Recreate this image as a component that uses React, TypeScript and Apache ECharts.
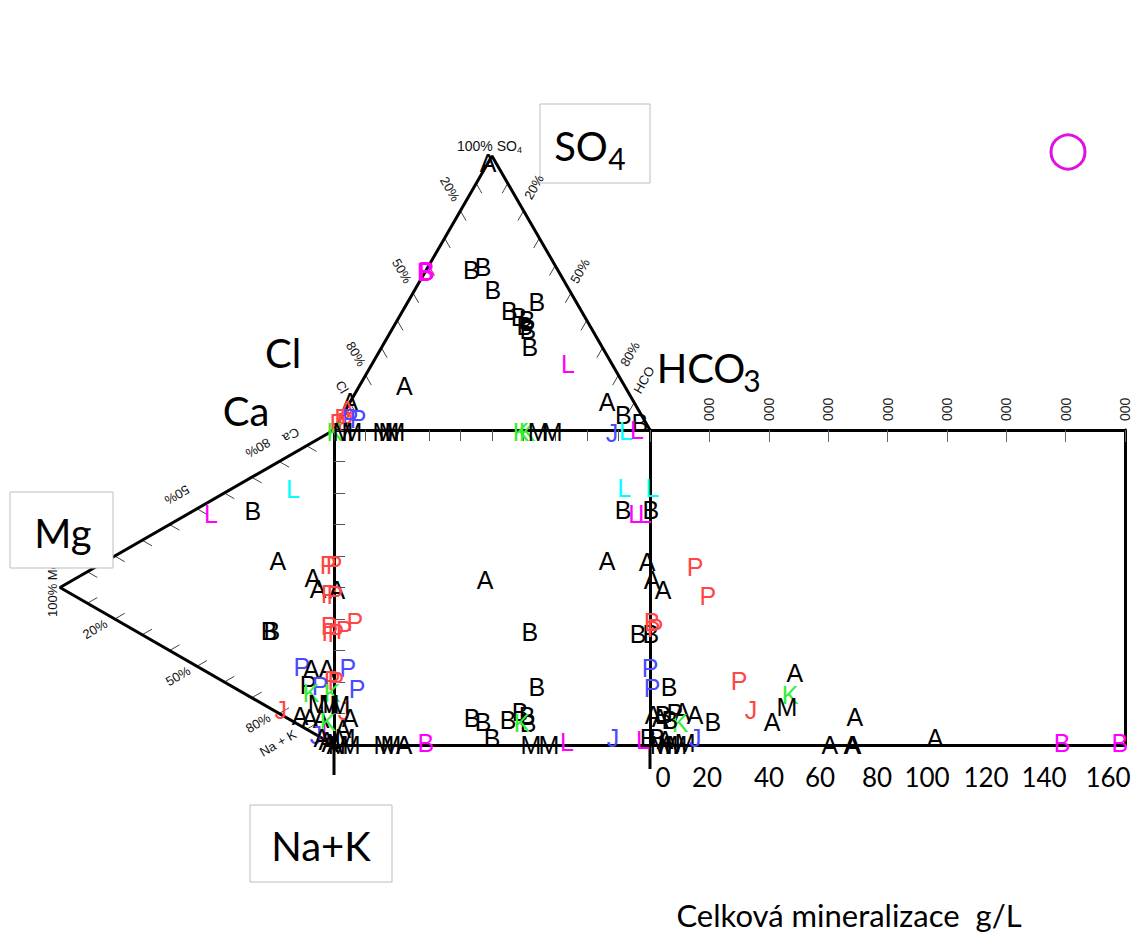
import React, { useEffect, useRef } from "react";
import * as echarts from "echarts";

const COLORS: Record<string, string> = {
  k: "#000000",
  r: "#ff4646",
  b: "#4a4aff",
  g: "#33ee33",
  m: "#ff00ff",
  c: "#00ffff",
};

// Anion triangle: [letter, colour, SO4 %, HCO3 %]  (Cl = remainder)
const anionPoints: [string, string, number, number][] = [
  ["A", "k", 97.6, 0],
  ["B", "m", 57.7, 0], ["B", "m", 58.0, 0.3],
  ["B", "k", 58.5, 14.2], ["B", "k", 59.6, 17.4], ["B", "k", 51.2, 24.7],
  ["B", "k", 43.5, 33.7], ["B", "k", 46.8, 40.8], ["B", "k", 41.3, 37.9],
  ["B", "k", 40.2, 41.0], ["B", "k", 38.0, 41.4], ["B", "k", 36.5, 43.1],
  ["B", "k", 30.3, 46.8],
  ["L", "m", 24.1, 62.0],
  ["A", "k", 16.1, 14.2],
  ["A", "k", 10.2, 81.3],
  ["B", "k", 5.5, 88.8],
  ["B", "k", 2.6, 95.5],
  ["A", "k", 10.2, 0], ["A", "r", 7.3, 0.5], ["P", "r", 4.4, 0.5], ["P", "r", 3.0, 2.0],
  ["P", "b", 4.4, 2.9], ["P", "b", 4.0, 5.6], ["P", "r", 2.5, 0],
];

// Cation triangle: [letter, colour, Mg %, Na+K %]  (Ca = remainder)
const cationPoints: [string, string, number, number][] = [
  ["P", "r", 2.2, 41.6], ["A", "k", 7.7, 43.0], ["A", "k", 5.8, 47.7],
  ["P", "r", 1.8, 51.3], ["P", "r", 1.8, 61.4], ["P", "r", 1.5, 63.5],
  ["L", "c", 15.0, 11.2], ["B", "k", 29.6, 10.8], ["L", "m", 44.9, 4.1],
  ["A", "k", 20.5, 31.3], ["B", "k", 23.7, 52.0], ["B", "k", 22.7, 52.6],
  ["J", "r", 19.4, 79.2],
  ["P", "b", 11.7, 69.5], ["A", "k", 8.4, 71.7], ["A", "k", 2.6, 74.6],
  ["P", "r", 0.7, 79.0], ["P", "k", 9.5, 76.3], ["P", "b", 5.1, 78.7],
  ["K", "g", 8.4, 79.3], ["K", "g", 0.7, 83.1],
  ["A", "k", 12.4, 84.6], ["A", "k", 8.8, 87.1], ["A", "k", 4.7, 89.4],
  ["M", "k", 5.8, 84.1], ["M", "k", 1.8, 86.1], ["L", "m", 2.2, 95.0],
  ["K", "g", 2.2, 91.6], ["J", "b", 6.6, 93.4], ["A", "k", 4.4, 95.6],
  ["A", "k", 1.5, 98.5], ["A", "k", 2.6, 97.4],
];

// Central square: [letter, colour, anion x %, cation y %]
const squarePoints: [string, string, number, number][] = [
  ["K", "g", 0.3, 99.4], ["M", "k", 2.8, 99.4], ["M", "k", 5.7, 99.4],
  ["M", "k", 15.5, 99.4], ["M", "k", 17.4, 99.4], ["M", "k", 19.3, 99.4],
  ["K", "g", 59.2, 99.4], ["K", "g", 61.1, 99.4], ["M", "k", 64.6, 99.4], ["M", "k", 69.0, 99.4],
  ["J", "b", 88.0, 99.0], ["L", "c", 92.4, 99.7], ["L", "m", 95.9, 100],
  ["L", "c", 91.8, 81.6], ["B", "k", 91.5, 74.6], ["L", "m", 95.3, 73.3], ["L", "m", 98.4, 73.3],
  ["A", "k", 86.4, 58.4], ["A", "k", 99.1, 58.1],
  ["A", "k", 47.8, 52.4],
  ["B", "k", 62.0, 35.9],
  ["B", "k", 96.2, 35.2],
  ["B", "k", 64.2, 18.4],
  ["B", "k", 43.7, 8.6], ["B", "k", 47.2, 7.3], ["B", "k", 50.0, 2.2], ["B", "k", 55.1, 7.9],
  ["B", "k", 58.9, 10.5], ["B", "k", 61.1, 9.2], ["B", "k", 61.4, 7.0], ["K", "g", 59.5, 7.0],
  ["M", "k", 62.3, 0], ["M", "k", 68.0, 0], ["L", "m", 73.7, 1.0], ["J", "b", 88.3, 2.2],
  ["L", "m", 97.8, 1.6], ["B", "k", 99.4, 2.2],
  ["M", "k", 15.8, 0], ["M", "k", 18.0, 0], ["A", "k", 22.2, 0], ["B", "m", 29.1, 0.6],
  ["P", "r", 0, 57.1], ["A", "k", 0.9, 49.2], ["P", "r", 0.3, 47.6],
  ["P", "r", 0.6, 35.6], ["P", "r", 3.2, 36.5], ["P", "r", 6.6, 39.0],
  ["P", "b", 4.4, 24.4], ["P", "r", 0.6, 20.3], ["P", "b", 7.3, 17.8],
  ["J", "r", 3.2, 10.8], ["M", "k", 1.9, 12.7], ["A", "k", 5.1, 8.6], ["A", "k", 2.8, 5.1],
  ["M", "k", 1.3, 0], ["M", "k", 3.5, 2.2], ["A", "k", 0.3, 0], ["M", "k", 5.1, 0],
];

// Mineralisation rectangle: [letter, colour, TDS g/L, cation y %]
const tdsPoints: [string, string, number, number][] = [
  ["L", "c", 0.7, 81.6], ["B", "k", 0.3, 74.6],
  ["A", "k", 0.7, 52.4], ["A", "k", 4.4, 49.2],
  ["B", "k", 0.3, 35.2], ["B", "r", 0.7, 39.0], ["P", "r", 1.7, 37.1],
  ["P", "b", 0, 24.4], ["P", "b", 0.7, 18.1], ["B", "k", 6.4, 18.4],
  ["P", "r", 15.2, 56.5], ["P", "r", 19.5, 47.3], ["P", "r", 30.0, 20.3], ["J", "r", 34.0, 11.1],
  ["A", "k", 48.8, 22.9], ["K", "g", 47.2, 15.9], ["M", "k", 46.1, 12.1], ["A", "k", 41.1, 7.3],
  ["A", "k", 69.0, 8.9], ["A", "k", 60.6, 0], ["A", "k", 68.0, 0], ["A", "k", 68.4, 0],
  ["A", "k", 96.0, 2.2],
  ["B", "m", 138.8, 0.6], ["B", "m", 158.3, 0.6],
  ["A", "k", 1.0, 9.5], ["B", "k", 4.4, 9.5], ["P", "k", 8.4, 10.2], ["A", "k", 10.8, 10.5],
  ["A", "k", 15.2, 9.5], ["K", "g", 10.1, 7.0], ["B", "k", 21.2, 7.3], ["A", "k", 3.4, 8.6],
  ["B", "k", 6.7, 7.9],
  ["M", "k", 3.4, 0], ["M", "k", 6.1, 0], ["M", "k", 9.1, 0], ["M", "k", 11.8, 0.6],
  ["J", "b", 15.2, 2.2], ["B", "k", 2.4, 2.2], ["A", "k", 5.1, 1.6],
];

const tdsTickLabels = ["0", "20", "40", "60", "80", "100", "120", "140", "160"];
const tdsTickLabelX = [663, 707, 769, 820, 877, 927, 986, 1044, 1108];
const triTicks = [10, 20, 30, 40, 50, 60, 70, 80, 90];

const S3 = Math.sqrt(3) / 2;
const TRI_H = 100 * S3;
const TICK = 3.6;

const anionXY = (so4: number, hco3: number) => [hco3 + so4 / 2, so4 * S3];
const cationXY = (mg: number, nak: number) => [TRI_H - mg * S3, 100 - nak - mg / 2];

const LETTER_FONT = '"Liberation Sans", Arial, sans-serif';
const BIG_FONT = 'Lato, "Open Sans", sans-serif';

function letterSeries(pts: [string, string, number, number][], coords: number[][], xi: number, yi: number) {
  return {
    type: "custom",
    xAxisIndex: xi,
    yAxisIndex: yi,
    clip: false,
    silent: true,
    z: 5,
    data: coords,
    renderItem: (params: any, api: any) => {
      const p = api.coord([api.value(0), api.value(1)]);
      const [l, c] = pts[params.dataIndex];
      return {
        type: "text",
        x: p[0],
        y: p[1],
        style: {
          text: l,
          fill: COLORS[c],
          fontSize: 25,
          fontFamily: LETTER_FONT,
          align: "center",
          verticalAlign: "middle",
          textAlign: "center",
          textVerticalAlign: "middle",
        },
      };
    },
  };
}

function txt(text: string, x: number, y: number, size: number, opts: any = {}) {
  return {
    type: "text",
    x,
    y,
    rotation: opts.rotation || 0,
    z: opts.z || 20,
    style: {
      text,
      fill: opts.fill || "#111",
      fontSize: size,
      fontFamily: opts.family || LETTER_FONT,
      align: opts.align || "center",
      verticalAlign: opts.va || "middle",
      textAlign: opts.align || "center",
      textVerticalAlign: opts.va || "middle",
    },
  };
}

const BLACK_LINE = { show: true, onZero: false, lineStyle: { color: "#000", width: 3 } };
const NO = { show: false };

function buildOption() {
  const anionTicks: any[] = [];
  const cationTicks: any[] = [];
  triTicks.forEach((s) => {
    const l = [s / 2, s * S3];
    anionTicks.push({ coords: [l, [l[0] + 0.5 * TICK, l[1] - S3 * TICK]] });
    const r = [100 - s / 2, s * S3];
    anionTicks.push({ coords: [r, [r[0] - 0.5 * TICK, r[1] - S3 * TICK]] });
    const t = [TRI_H - S3 * s, 100 - s / 2];
    cationTicks.push({ coords: [t, [t[0] + S3 * TICK, t[1] - 0.5 * TICK]] });
    const b = [TRI_H - S3 * s, s / 2];
    cationTicks.push({ coords: [b, [b[0] + S3 * TICK, b[1] + 0.5 * TICK]] });
  });

  const rot = Math.PI / 3;
  const graphics: any[] = [
    // label boxes
    { type: "rect", z: 18, shape: { x: 540, y: 104, width: 110, height: 79 }, style: { fill: "#fff", stroke: "#bdbdbd", lineWidth: 1 } },
    { type: "rect", z: 18, shape: { x: 10, y: 492, width: 103, height: 76 }, style: { fill: "#fff", stroke: "#bdbdbd", lineWidth: 1 } },
    { type: "rect", z: 18, shape: { x: 250, y: 805, width: 142, height: 77 }, style: { fill: "#fff", stroke: "#bdbdbd", lineWidth: 1 } },
    // axis extensions below the square
    { type: "line", z: 3, shape: { x1: 334, y1: 745, x2: 334, y2: 775 }, style: { stroke: "#000", lineWidth: 3 } },
    { type: "line", z: 3, shape: { x1: 650, y1: 745, x2: 650, y2: 769 }, style: { stroke: "#000", lineWidth: 3 } },
    // legend marker (cut off)
    { type: "circle", z: 20, shape: { cx: 1068, cy: 152, r: 17 }, style: { fill: "none", stroke: "#e010e0", lineWidth: 3 } },
    // big labels
    txt("SO", 581, 146, 40, { family: BIG_FONT, fill: "#000", z: 21 }),
    txt("4", 617, 158, 30, { family: BIG_FONT, fill: "#000", z: 21 }),
    txt("Mg", 63, 533, 40, { family: BIG_FONT, fill: "#000", z: 21 }),
    txt("Na+K", 321, 846, 40, { family: BIG_FONT, fill: "#000", z: 21 }),
    txt("Cl", 283, 353, 40, { family: BIG_FONT, fill: "#000" }),
    txt("Ca", 246, 411, 40, { family: BIG_FONT, fill: "#000" }),
    txt("HCO", 701, 368, 40, { family: BIG_FONT, fill: "#000" }),
    txt("3", 752, 380, 30, { family: BIG_FONT, fill: "#000" }),
    txt("Celková mineralizace  g/L", 849, 915, 31, { family: BIG_FONT, fill: "#000" }),
    // small labels on the triangles
    txt("100% SO", 457, 146, 14, { align: "left" }),
    txt("4", 517, 150, 9, { align: "left" }),
    txt("20%", 450, 189, 13, { rotation: -rot }),
    txt("50%", 402, 271, 13, { rotation: -rot }),
    txt("80%", 356, 354, 13, { rotation: -rot }),
    txt("Cl", 342, 387, 13, { rotation: -rot }),
    txt("20%", 534, 187, 13, { rotation: rot }),
    txt("50%", 580, 271, 13, { rotation: rot }),
    txt("80%", 630, 354, 13, { rotation: rot }),
    txt("HCO", 644, 380, 13, { rotation: rot }),
    txt("Ca", 291, 435, 13, { rotation: Math.PI / 6 + Math.PI }),
    txt("80%", 258, 448, 13, { rotation: Math.PI / 6 + Math.PI }),
    txt("50%", 177, 495, 13, { rotation: Math.PI / 6 + Math.PI }),
    txt("20%", 95, 629, 13, { rotation: Math.PI / 6 }),
    txt("50%", 178, 676, 13, { rotation: Math.PI / 6 }),
    txt("80%", 258, 723, 13, { rotation: Math.PI / 6 }),
    txt("Na + K", 278, 743, 13, { rotation: Math.PI / 6 }),
    txt("100% Mg", 52, 617, 13, { rotation: Math.PI / 2, align: "left", z: 15 }),
  ];
  tdsTickLabels.forEach((t, i) => {
    graphics.push(txt(t, tdsTickLabelX[i], 777, 26, { family: BIG_FONT, fill: "#000" }));
  });

  return {
    animation: false,
    backgroundColor: "#ffffff",
    grid: [
      { left: 334, top: 156, width: 316, height: 274 },
      { left: 60, top: 430, width: 274, height: 315 },
      { left: 334, top: 430, width: 316, height: 315 },
      { left: 650, top: 430, width: 475, height: 315 },
    ],
    xAxis: [
      { type: "value", gridIndex: 0, min: 0, max: 100, show: false },
      { type: "value", gridIndex: 1, min: 0, max: TRI_H, show: false },
      {
        type: "value", gridIndex: 2, min: 0, max: 100, interval: 10, position: "top",
        axisLine: BLACK_LINE,
        axisTick: { show: true, inside: true, length: 11, lineStyle: { color: "#555", width: 1 } },
        axisLabel: NO, splitLine: NO,
      },
      { type: "value", gridIndex: 2, min: 0, max: 100, position: "bottom", axisLine: BLACK_LINE, axisTick: NO, axisLabel: NO, splitLine: NO },
      {
        type: "value", gridIndex: 3, min: 0, max: 160, interval: 20, position: "top",
        axisLine: BLACK_LINE,
        axisTick: { show: true, inside: true, length: 12, lineStyle: { color: "#666", width: 1 } },
        axisLabel: {
          show: true, rotate: -90, margin: 9, fontSize: 14, fontFamily: LETTER_FONT, color: "#222",
          formatter: (v: number) => (v === 0 ? "" : "000"),
        },
        splitLine: NO,
      },
      { type: "value", gridIndex: 3, min: 0, max: 160, position: "bottom", axisLine: BLACK_LINE, axisTick: NO, axisLabel: NO, splitLine: NO },
    ],
    yAxis: [
      { type: "value", gridIndex: 0, min: 0, max: TRI_H, show: false },
      { type: "value", gridIndex: 1, min: 0, max: 100, show: false },
      {
        type: "value", gridIndex: 2, min: 0, max: 100, interval: 10, position: "left",
        axisLine: BLACK_LINE,
        axisTick: { show: true, inside: true, length: 11, lineStyle: { color: "#555", width: 1 } },
        axisLabel: NO, splitLine: NO,
      },
      { type: "value", gridIndex: 2, min: 0, max: 100, position: "right", axisLine: BLACK_LINE, axisTick: NO, axisLabel: NO, splitLine: NO },
      { type: "value", gridIndex: 3, min: 0, max: 100, position: "right", axisLine: BLACK_LINE, axisTick: NO, axisLabel: NO, splitLine: NO },
    ],
    series: [
      {
        type: "line", xAxisIndex: 0, yAxisIndex: 0, symbol: "none", silent: true, z: 3,
        lineStyle: { color: "#000", width: 3 },
        data: [[0, 0], [50, TRI_H], [100, 0]],
      },
      {
        type: "line", xAxisIndex: 1, yAxisIndex: 1, symbol: "none", silent: true, z: 3,
        lineStyle: { color: "#000", width: 3 },
        data: [[TRI_H, 100], [0, 50], [TRI_H, 0]],
      },
      {
        type: "lines", coordinateSystem: "cartesian2d", xAxisIndex: 0, yAxisIndex: 0, silent: true, z: 3,
        lineStyle: { color: "#444", width: 1, opacity: 1 },
        data: anionTicks,
      },
      {
        type: "lines", coordinateSystem: "cartesian2d", xAxisIndex: 1, yAxisIndex: 1, silent: true, z: 3,
        lineStyle: { color: "#444", width: 1, opacity: 1 },
        data: cationTicks,
      },
      letterSeries(anionPoints, anionPoints.map((p) => anionXY(p[2], p[3])), 0, 0),
      letterSeries(cationPoints, cationPoints.map((p) => cationXY(p[2], p[3])), 1, 1),
      letterSeries(squarePoints, squarePoints.map((p) => [p[2], p[3]]), 2, 2),
      letterSeries(tdsPoints, tdsPoints.map((p) => [p[2], p[3]]), 4, 4),
    ],
    graphic: { elements: graphics },
  };
}

export default function App() {
  const ref = useRef<HTMLDivElement>(null);
  useEffect(() => {
    document.body.style.margin = "0";
    const chart = echarts.init(ref.current!, undefined, { renderer: "svg" });
    chart.setOption(buildOption() as any);
    return () => chart.dispose();
  }, []);
  return <div ref={ref} style={{ width: 1132, height: 937 }} />;
}
